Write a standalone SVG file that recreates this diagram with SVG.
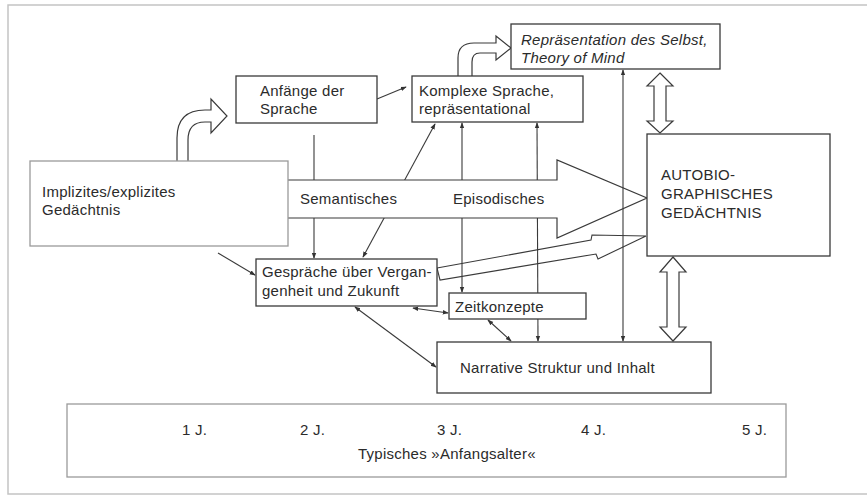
<svg xmlns="http://www.w3.org/2000/svg" width="867" height="495" viewBox="0 0 867 495">
<defs>
<marker id="ah" viewBox="0 0 8 8" refX="7" refY="4" markerWidth="6" markerHeight="6" markerUnits="userSpaceOnUse" orient="auto-start-reverse">
<path d="M0,1 L8,4 L0,7 Z" fill="#333"/>
</marker>
<style>
.t{font-family:"Liberation Sans",Arial,sans-serif;font-size:15px;fill:#2b2b2b;letter-spacing:0.25px}
.ti{font-style:italic}
.box{fill:#fff;stroke:#3a3a3a;stroke-width:1.3}
.lbox{fill:#fff;stroke:#9a9a9a;stroke-width:1.3}
.ln{fill:none;stroke:#3a3a3a;stroke-width:1.1}
.fat{fill:#fff;stroke:#3a3a3a;stroke-width:1.2;stroke-linejoin:miter}
</style>
</defs>
<rect width="867" height="495" fill="#fff"/>
<path d="M872,5 L8,5 L8,494 L872,494" fill="none" stroke="#c4c4c4" stroke-width="1.5"/>

<g id="connectors">
<path class="ln" d="M377,99 L406,87" marker-end="url(#ah)"/>
<path class="ln" d="M314,135 L314,258" marker-end="url(#ah)"/>
<path class="ln" d="M363,257 L435,124" marker-start="url(#ah)" marker-end="url(#ah)"/>
<path class="ln" d="M462,123 L462,292" marker-start="url(#ah)" marker-end="url(#ah)"/>
<path class="ln" d="M537,123 L538,341" marker-start="url(#ah)" marker-end="url(#ah)"/>
<path class="ln" d="M218,253 L255,275" marker-end="url(#ah)"/>
<path class="ln" d="M413,308 L448,313" marker-start="url(#ah)" marker-end="url(#ah)"/>
<path class="ln" d="M355,307 L436,367" marker-start="url(#ah)" marker-end="url(#ah)"/>
<path class="ln" d="M488,320 L511,341" marker-start="url(#ah)" marker-end="url(#ah)"/>
</g>

<g id="big-arrow">
<path class="fat" d="M288,180 L557,180 L557,160 L647,198 L557,238 L557,218 L288,218"/>
<text class="t" x="300" y="204">Semantisches</text>
<text class="t" x="453" y="204">Episodisches</text>
</g>

<g id="connector-self">
<path class="ln" d="M623,70 L623,341" marker-start="url(#ah)" marker-end="url(#ah)"/>
</g>

<g id="thin-arrow">
<path class="ln" d="M437,268 L591,240 L592,235 L646,236 L598,259 L596,254 L440,280 Z"/>
</g>

<g id="curved-arrows">
<path class="fat" d="M177,161 L177,138 Q177,110 205,110 L211,110 L211,99 L227,116 L211,133 L211,122 L205,122 Q188,122 188,140 L188,161"/>
<path class="fat" d="M458,76 L458,58 Q458,43 474,43 L496,43 L496,36 L511,48 L496,60 L496,53 L480,53 Q472,53 472,62 L472,76"/>
</g>

<g id="double-arrows">
<path class="fat" d="M660,73 L673,86 L666,86 L666,121 L673,121 L660,133 L647,121 L654,121 L654,86 L647,86 Z"/>
<path class="fat" d="M673,257 L686,272 L679,272 L679,327 L686,327 L673,341 L660,327 L667,327 L667,272 L660,272 Z"/>
</g>

<g id="implizit">
<rect class="lbox" x="30" y="161" width="258" height="85"/>
<text class="t" x="42" y="197">Implizites/explizites</text>
<text class="t" x="42" y="215">Gedächtnis</text>
</g>

<g id="anfaenge">
<rect class="box" x="236" y="76" width="141" height="47"/>
<text class="t" x="260" y="96">Anfänge der</text>
<text class="t" x="260" y="114">Sprache</text>
</g>

<g id="komplexe">
<rect class="box" x="412" y="76" width="171" height="46"/>
<text class="t" x="419" y="96">Komplexe Sprache,</text>
<text class="t" x="419" y="114">repräsentational</text>
</g>

<g id="repraesentation">
<rect class="box" x="511" y="24" width="209" height="45"/>
<text class="t ti" x="521" y="45">Repräsentation des Selbst,</text>
<text class="t ti" x="521" y="63">Theory of Mind</text>
</g>

<g id="autobio">
<rect class="box" x="647" y="134" width="183" height="122"/>
<text class="t" x="661" y="180">AUTOBIO-</text>
<text class="t" x="661" y="199">GRAPHISCHES</text>
<text class="t" x="661" y="218">GEDÄCHTNIS</text>
</g>

<g id="gespraeche">
<rect class="box" x="256" y="259" width="181" height="47"/>
<text class="t" x="262" y="277">Gespräche über Vergan-</text>
<text class="t" x="262" y="296">genheit und Zukunft</text>
</g>

<g id="zeitkonzepte">
<rect class="box" x="449" y="293" width="137" height="26"/>
<text class="t" x="455" y="312">Zeitkonzepte</text>
</g>

<g id="narrative">
<rect class="box" x="437" y="342" width="274" height="51"/>
<text class="t" x="460" y="373">Narrative Struktur und Inhalt</text>
</g>

<g id="timeline">
<rect class="lbox" x="67" y="404" width="719" height="73"/>
<text class="t" x="182" y="435">1 J.</text>
<text class="t" x="300" y="435">2 J.</text>
<text class="t" x="437" y="435">3 J.</text>
<text class="t" x="581" y="435">4 J.</text>
<text class="t" x="742" y="435">5 J.</text>
<text class="t" x="358" y="459">Typisches »Anfangsalter«</text>
</g>
</svg>
